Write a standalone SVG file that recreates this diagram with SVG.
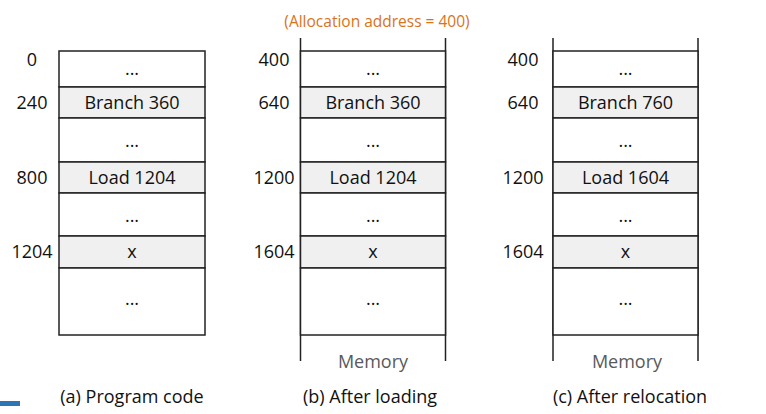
<svg xmlns="http://www.w3.org/2000/svg" width="766" height="414" viewBox="0 0 766 414">
<style>
text{font-family:"Open Sans","Noto Sans",sans-serif;font-size:18px;fill:#111;text-anchor:middle}
.w{fill:#fff;stroke:#222;stroke-width:1.5}
.g{fill:#f0f0f0;stroke:#222;stroke-width:1.5}
.rail{stroke:#222;stroke-width:1.5;fill:none}
.mem{fill:#595959}
.note{fill:#d9731a;font-size:15.5px}
</style>
<rect width="766" height="414" fill="#fff"/>
<text class="note" x="377" y="27">(Allocation address = 400)</text>

<g id="colA">
  <g id="a0"><rect class="w" x="59" y="51" width="146" height="36"/><text x="132" y="75">...</text></g>
  <g id="a1"><rect class="g" x="59" y="87" width="146" height="31"/><text x="132" y="109">Branch 360</text></g>
  <g id="a2"><rect class="w" x="59" y="118" width="146" height="44"/><text x="132" y="147">...</text></g>
  <g id="a3"><rect class="g" x="59" y="162" width="146" height="31"/><text x="132" y="184">Load 1204</text></g>
  <g id="a4"><rect class="w" x="59" y="193" width="146" height="43"/><text x="132" y="222">...</text></g>
  <g id="a5"><rect class="g" x="59" y="236" width="146" height="32"/><text x="132" y="258">x</text></g>
  <g id="a6"><rect class="w" x="59" y="268" width="146" height="67"/><text x="132" y="305">...</text></g>
  <text x="32" y="66">0</text>
  <text x="32" y="109">240</text>
  <text x="32" y="184">800</text>
  <text x="32" y="258">1204</text>
  <text x="132" y="403">(a) Program code</text>
</g>

<g id="colB">
  <path class="rail" d="M300.5,38V361M445.5,38V361"/>
  <g id="b0"><rect class="w" x="300.5" y="51" width="145" height="36"/><text x="373" y="75">...</text></g>
  <g id="b1"><rect class="g" x="300.5" y="87" width="145" height="31"/><text x="373" y="109">Branch 360</text></g>
  <g id="b2"><rect class="w" x="300.5" y="118" width="145" height="44"/><text x="373" y="147">...</text></g>
  <g id="b3"><rect class="g" x="300.5" y="162" width="145" height="31"/><text x="373" y="184">Load 1204</text></g>
  <g id="b4"><rect class="w" x="300.5" y="193" width="145" height="43"/><text x="373" y="222">...</text></g>
  <g id="b5"><rect class="g" x="300.5" y="236" width="145" height="32"/><text x="373" y="258">x</text></g>
  <g id="b6"><rect class="w" x="300.5" y="268" width="145" height="67"/><text x="373" y="305">...</text></g>
  <text x="274" y="66">400</text>
  <text x="274" y="109">640</text>
  <text x="274" y="184">1200</text>
  <text x="274" y="258">1604</text>
  <text class="mem" x="373" y="368">Memory</text>
  <text x="370" y="403">(b) After loading</text>
</g>

<g id="colC">
  <path class="rail" d="M553,38V361M698,38V361"/>
  <g id="c0"><rect class="w" x="553" y="51" width="145" height="36"/><text x="625.5" y="75">...</text></g>
  <g id="c1"><rect class="g" x="553" y="87" width="145" height="31"/><text x="625.5" y="109">Branch 760</text></g>
  <g id="c2"><rect class="w" x="553" y="118" width="145" height="44"/><text x="625.5" y="147">...</text></g>
  <g id="c3"><rect class="g" x="553" y="162" width="145" height="31"/><text x="625.5" y="184">Load 1604</text></g>
  <g id="c4"><rect class="w" x="553" y="193" width="145" height="43"/><text x="625.5" y="222">...</text></g>
  <g id="c5"><rect class="g" x="553" y="236" width="145" height="32"/><text x="625.5" y="258">x</text></g>
  <g id="c6"><rect class="w" x="553" y="268" width="145" height="67"/><text x="625.5" y="305">...</text></g>
  <text x="523" y="66">400</text>
  <text x="523" y="109">640</text>
  <text x="523" y="184">1200</text>
  <text x="523" y="258">1604</text>
  <text class="mem" x="627" y="368">Memory</text>
  <text x="630" y="403">(c) After relocation</text>
</g>

<g id="connectors"></g>
<rect x="0" y="401" width="20" height="5" fill="#2e75b6"/>
</svg>
